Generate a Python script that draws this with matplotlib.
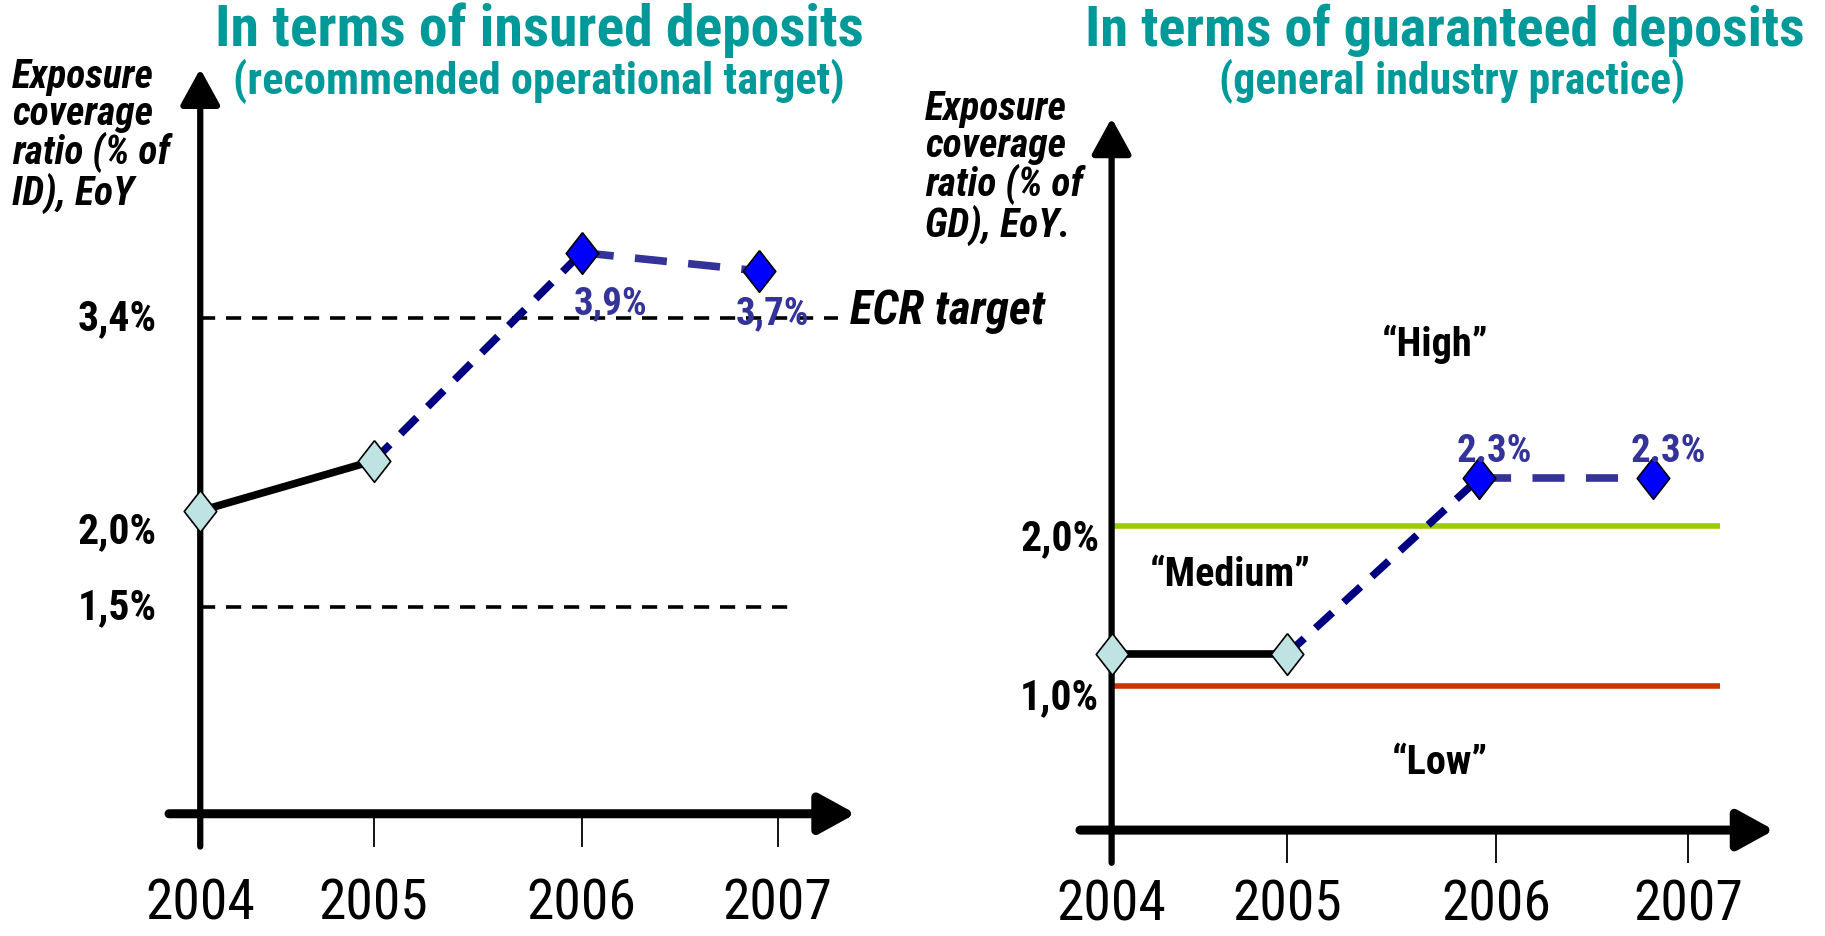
import matplotlib.pyplot as plt

plt.rcParams['font.family'] = ['Roboto Condensed', 'Liberation Sans', 'DejaVu Sans']

# ---- data ----
years = ['2004', '2005', '2006', '2007']

# left: exposure coverage ratio, % of insured deposits
id_ratio = [2.13, 2.46, 3.83, 3.71]
id_point_labels = ['3,9%', '3,7%']          # printed next to 2006 / 2007
id_target = 3.4                             # ECR target
id_floor = 1.5
id_ticks = [1.5, 2.0, 3.4]
id_ticklabels = ['1,5%', '2,0%', '3,4%']

# right: exposure coverage ratio, % of guaranteed deposits
gd_ratio = [1.2, 1.2, 2.3, 2.3]
gd_point_labels = ['2.3%', '2.3%']
gd_high = 2.0
gd_low = 1.0
gd_ticks = [1.0, 2.0]
gd_ticklabels = ['1,0%', '2,0%']
zone_names = ['\u201cHigh\u201d', '\u201cMedium\u201d', '\u201cLow\u201d']

# ---- look ----
TEAL = '#009999'
NAVY = '#000080'
BLUE2 = '#333399'
PALE = '#BFE3E3'
DIAMOND = [(0, 1), (0.78, 0), (0, -1), (-0.78, 0), (0, 1)]

# slide is hand drawn, years are not evenly spaced
tick_x_l = [0, 1, 2.2, 3.33]
pt_x_l = [0, 1, 2.2, 3.22]
tick_x_r = [0, 1, 2.19, 3.28]
pt_x_r = [0, 1, 2.09, 3.08]

fig = plt.figure(figsize=(18.25, 9.37), dpi=100)
ax1 = fig.add_axes([0.0147, 0.0760, 0.4751, 0.8916])
ax2 = fig.add_axes([0.5128, 0.0458, 0.4815, 0.9020])
ax1.set_xlim(-1, 4); ax1.set_ylim(-0.2, 5.3)
ax2.set_xlim(-1, 4); ax2.set_ylim(-0.3, 5.0)
for ax in (ax1, ax2):
  ax.axis('off')


def draw_axes(ax, xaxis_v, x0, x1, ybot, ytop, tick_x, year_v):
  # x axis with arrow
  ax.annotate('', xy=(x1, xaxis_v), xytext=(x0, xaxis_v), annotation_clip=False,
              arrowprops=dict(arrowstyle='-|>,head_length=1.0,head_width=0.55', lw=6.5,
                              color='black', shrinkA=0, shrinkB=0, mutation_scale=22))
  # y axis with arrow
  ax.annotate('', xy=(0, ytop), xytext=(0, ybot), annotation_clip=False,
              arrowprops=dict(arrowstyle='-|>,head_length=1.0,head_width=0.55', lw=4.5,
                              color='black', shrinkA=0, shrinkB=0, mutation_scale=22))
  ax.vlines(tick_x[1:], ybot, xaxis_v, color='black', lw=1.3)
  for x, yr in zip(tick_x, years):
    ax.text(x, year_v, yr, ha='center', va='center', fontsize=40)


def draw_series(ax, xs, vals):
  ax.plot(xs[0:2], vals[0:2], color='black', lw=5.5, solid_capstyle='butt', zorder=3)
  ax.plot(xs[1:3], vals[1:3], color=NAVY, lw=5.5, linestyle=(0, (3.0, 2.0)), zorder=3)
  ax.plot(xs[2:4], vals[2:4], color=BLUE2, lw=5.5, linestyle=(0, (4.2, 2.8)), zorder=3)
  ax.plot(xs[0:2], vals[0:2], linestyle='none', marker=DIAMOND, markersize=30,
          markerfacecolor=PALE, markeredgecolor='black', markeredgewidth=1.2, zorder=4)
  ax.plot(xs[2:4], vals[2:4], linestyle='none', marker=DIAMOND, markersize=30,
          markerfacecolor='#0000FF', markeredgecolor='black', markeredgewidth=1.2, zorder=4)


# ---- left panel ----
draw_axes(ax1, 0.136, -0.18, 3.78, -0.08, 5.04, tick_x_l, -0.45)
ax1.hlines(id_target, 0, 3.68, color='black', lw=2.6, linestyle=(0, (4.2, 3.0)), zorder=2)
ax1.hlines(id_floor, 0, 3.44, color='black', lw=2.6, linestyle=(0, (4.2, 3.0)), zorder=2)
draw_series(ax1, pt_x_l, id_ratio)
for v, lab in zip(id_ticks, id_ticklabels):
  ax1.text(-0.25, v, lab, ha='right', va='center', fontsize=30, fontweight='bold')
offs = [(21, -36), (10, -30)]
for i, lab in enumerate(id_point_labels):
  ax1.annotate(lab, (pt_x_l[2 + i], id_ratio[2 + i]), xytext=offs[i], textcoords='offset points',
               ha='center', va='center', fontsize=28, fontweight='bold', color=BLUE2, zorder=5)
ax1.text(3.745, id_target + 0.05, 'ECR target', ha='left', va='center', fontsize=34,
         fontweight='bold', style='italic')

# ---- right panel ----
draw_axes(ax2, 0.095, -0.18, 3.77, -0.11, 4.56, tick_x_r, -0.37)
ax2.hlines(gd_high, 0, 3.46, color='#99CC00', lw=4, zorder=2)
ax2.hlines(gd_low, 0, 3.46, color='#CC3300', lw=4, zorder=2)
draw_series(ax2, pt_x_r, gd_ratio)
for v, lab in zip(gd_ticks, gd_ticklabels):
  ax2.annotate(lab, (-0.07, v), xytext=(0, -8), textcoords='offset points',
               ha='right', va='center', fontsize=30, fontweight='bold')
for i, lab in enumerate(gd_point_labels):
  ax2.annotate(lab, (pt_x_r[2 + i], gd_ratio[2 + i]), xytext=(11, 20), textcoords='offset points',
               ha='center', va='center', fontsize=28, fontweight='bold', color=BLUE2, zorder=5)
zone_pos = [(1.84, 3.15), (0.675, 1.70), (1.87, 0.525)]
for (x, y), name in zip(zone_pos, zone_names):
  ax2.text(x, y, name, ha='center', va='center', fontsize=29, fontweight='bold')

# ---- titles and axis captions ----
fig.text(539 / 1825, 1 - 30 / 937, 'In terms of insured deposits', ha='center', va='center',
         fontsize=41.5, fontweight='bold', color=TEAL)
fig.text(539 / 1825, 1 - 81 / 937, '(recommended operational target)', ha='center', va='center',
         fontsize=32, fontweight='bold', color=TEAL)
fig.text(1445 / 1825, 1 - 30 / 937, 'In terms of guaranteed deposits', ha='center', va='center',
         fontsize=40.5, fontweight='bold', color=TEAL)
fig.text(1452 / 1825, 1 - 81 / 937, '(general industry practice)', ha='center', va='center',
         fontsize=31.5, fontweight='bold', color=TEAL)

fig.text(12 / 1825, 1 - 58 / 937, 'Exposure\ncoverage\nratio (% of\nID), EoY', ha='left', va='top',
         fontsize=28.5, fontweight='bold', style='italic', linespacing=0.97)
fig.text(925 / 1825, 1 - 90 / 937, 'Exposure\ncoverage\nratio (% of\nGD), EoY.', ha='left', va='top',
         fontsize=28.5, fontweight='bold', style='italic', linespacing=0.97)

fig.savefig('out.png', dpi=100)
